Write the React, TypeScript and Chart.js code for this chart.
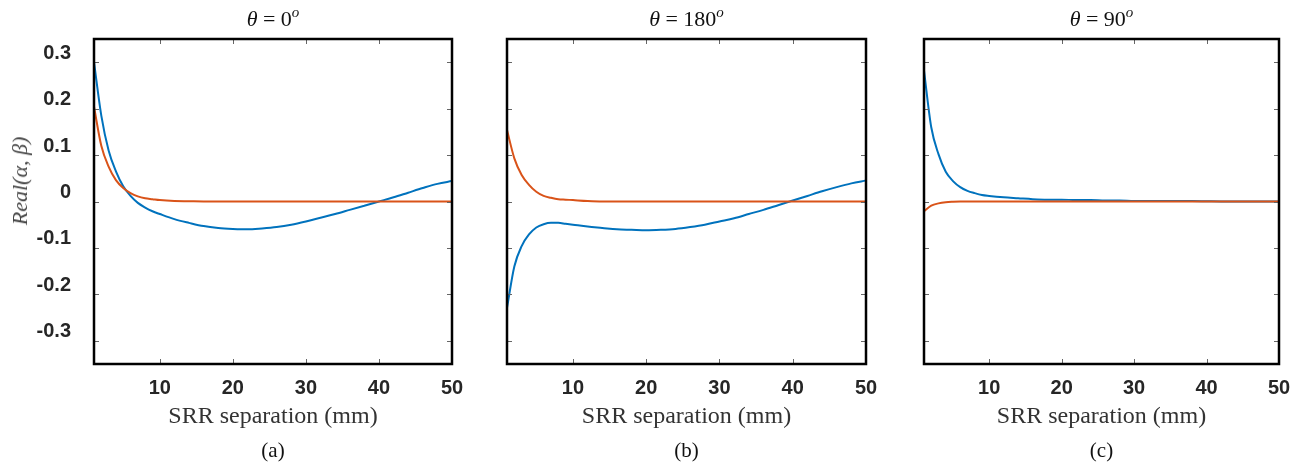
import React, { useEffect, useRef } from "react";
import { Chart, registerables } from "chart.js";

Chart.register(...registerables);

const W = 1305;
const H = 467;

// separation (mm)
const xValues = [1, 2, 3, 4, 5, 6, 7, 8, 9, 10, 12, 14, 16, 18, 20, 22, 24, 26, 28, 30, 32, 34, 36, 38, 40, 42, 44, 46, 48, 50];

// (a) theta = 0
const blueA = [0.300, 0.185, 0.110, 0.065, 0.033, 0.012, -0.003, -0.013, -0.021, -0.027, -0.038, -0.046, -0.053, -0.057, -0.059, -0.060, -0.058, -0.055, -0.050, -0.043, -0.035, -0.027, -0.018, -0.009, 0.000, 0.009, 0.019, 0.029, 0.038, 0.044];
const orangeA = [0.204, 0.120, 0.075, 0.046, 0.029, 0.018, 0.011, 0.007, 0.005, 0.003, 0.001, 0.0005, 0, 0, 0, 0, 0, 0, 0, 0, 0, 0, 0, 0, 0, 0, 0, 0, 0, 0];

// (b) theta = 180
const blueB = [-0.229, -0.140, -0.096, -0.071, -0.056, -0.049, -0.046, -0.046, -0.048, -0.050, -0.054, -0.057, -0.060, -0.061, -0.062, -0.061, -0.059, -0.055, -0.050, -0.043, -0.036, -0.027, -0.018, -0.008, 0.002, 0.012, 0.022, 0.031, 0.039, 0.045];
const orangeB = [0.154, 0.093, 0.057, 0.036, 0.021, 0.012, 0.008, 0.005, 0.004, 0.003, 0.001, 0, 0, 0, 0, 0, 0, 0, 0, 0, 0, 0, 0, 0, 0, 0, 0, 0, 0, 0];

// (c) theta = 90
const blueC = [0.282, 0.160, 0.102, 0.064, 0.044, 0.031, 0.023, 0.018, 0.014, 0.012, 0.009, 0.007, 0.005, 0.004, 0.004, 0.003, 0.003, 0.002, 0.002, 0.001, 0.001, 0.001, 0.001, 0.001, 0.0005, 0, 0, 0, 0, 0];
const orangeC = [-0.021, -0.009, -0.004, -0.0015, -0.0005, 0, 0, 0, 0, 0, 0, 0, 0, 0, 0, 0, 0, 0, 0, 0, 0, 0, 0, 0, 0, 0, 0, 0, 0, 0];

const xTicks = [10, 20, 30, 40, 50];
const yTicks = [-0.3, -0.2, -0.1, 0, 0.1, 0.2, 0.3];
const thetaLabels = ["0", "180", "90"];
const panelLetters = ["(a)", "(b)", "(c)"];
const xTitle = "SRR separation (mm)";
const yTitle = "Real(α, β)";

const BLUE = "#0072BD";
const ORANGE = "#D95319";

const PLOT_TOP = 39;
const PLOT_BOTTOM = 364;
const plotLefts = [94, 507, 924];
const plotRights = [452, 866, 1279];
const Y_AXIS_W = 94;

const panels = [
  { blue: blueA, orange: orangeA },
  { blue: blueB, orange: orangeB },
  { blue: blueC, orange: orangeC },
];

const framePlugin = {
  id: "frameTicks",
  afterDraw(chart: any) {
    const { ctx, chartArea: a, scales } = chart;
    ctx.save();
    ctx.strokeStyle = "#666";
    ctx.lineWidth = 1;
    const tl = 5;
    ctx.beginPath();
    for (const t of scales.x.ticks) {
      const px = Math.round(scales.x.getPixelForValue(t.value)) + 0.5;
      ctx.moveTo(px, a.bottom);
      ctx.lineTo(px, a.bottom - tl);
      ctx.moveTo(px, a.top);
      ctx.lineTo(px, a.top + tl);
    }
    for (const t of scales.y.ticks) {
      const py = Math.round(scales.y.getPixelForValue(t.value)) + 0.5;
      ctx.moveTo(a.left, py);
      ctx.lineTo(a.left + tl, py);
      ctx.moveTo(a.right, py);
      ctx.lineTo(a.right - tl, py);
    }
    ctx.stroke();
    ctx.strokeStyle = "#000";
    ctx.lineWidth = 2.5;
    ctx.strokeRect(a.left, a.top, a.right - a.left, a.bottom - a.top);
    ctx.restore();
  },
};

function fmt(v: number): string {
  const r = Math.round(v * 10) / 10;
  if (r === 0) return "0";
  return String(r);
}

function Panel({ idx }: { idx: number }) {
  const ref = useRef<HTMLCanvasElement | null>(null);
  useEffect(() => {
    if (!ref.current) return;
    const p = panels[idx];
    const tickFont = { family: "'Liberation Sans', Arial, sans-serif", size: 20, weight: "bold" as const };
    const chart = new Chart(ref.current, {
      type: "line",
      data: {
        datasets: [
          {
            data: xValues.map((x, i) => ({ x, y: p.orange[i] })),
            borderColor: ORANGE,
            borderWidth: 2,
            pointRadius: 0,
            cubicInterpolationMode: "monotone",
            order: 0,
          },
          {
            data: xValues.map((x, i) => ({ x, y: p.blue[i] })),
            borderColor: BLUE,
            borderWidth: 2,
            pointRadius: 0,
            cubicInterpolationMode: "monotone",
            order: 1,
          },
        ],
      },
      options: {
        responsive: false,
        animation: false,
        devicePixelRatio: 1,
        layout: {
          padding: {
            left: plotLefts[idx] - Y_AXIS_W,
            right: W - plotRights[idx],
            top: PLOT_TOP,
            bottom: 0,
          },
        },
        plugins: {
          legend: { display: false },
          tooltip: { enabled: false },
          title: { display: false },
        },
        scales: {
          x: {
            type: "linear",
            min: 1,
            max: 50,
            afterBuildTicks: (s: any) => {
              s.ticks = xTicks.map((v) => ({ value: v }));
            },
            afterFit: (s: any) => {
              s.height = H - PLOT_BOTTOM;
            },
            grid: { display: false, drawTicks: false },
            border: { display: false },
            ticks: {
              font: tickFont,
              color: "#262626",
              padding: 12,
              maxRotation: 0,
              autoSkip: false,
              callback: (v: any) => String(v),
            },
          },
          y: {
            type: "linear",
            min: -0.35,
            max: 0.35,
            afterBuildTicks: (s: any) => {
              s.ticks = yTicks.map((v) => ({ value: v }));
            },
            afterFit: (s: any) => {
              s.width = Y_AXIS_W;
            },
            grid: { display: false, drawTicks: false },
            border: { display: false },
            ticks: {
              display: idx === 0,
              font: tickFont,
              color: "#262626",
              padding: 23,
              labelOffset: -9,
              autoSkip: false,
              callback: (v: any) => fmt(Number(v)),
            },
          },
        },
      },
      plugins: [framePlugin],
    } as any);
    return () => chart.destroy();
  }, [idx]);
  return (
    <canvas
      ref={ref}
      width={W}
      height={H}
      style={{ position: "absolute", left: 0, top: 0, width: W, height: H }}
    />
  );
}

export default function App() {
  const serif = "'Liberation Serif', 'Times New Roman', serif";
  return (
    <div
      style={{
        position: "absolute",
        left: 0,
        top: 0,
        width: W,
        height: H,
        background: "#fff",
        overflow: "hidden",
        fontFamily: serif,
      }}
    >
      {[0, 1, 2].map((i) => (
        <Panel key={i} idx={i} />
      ))}
      {[0, 1, 2].map((i) => {
        const cx = (plotLefts[i] + plotRights[i]) / 2;
        return (
          <React.Fragment key={"t" + i}>
            <div
              style={{
                position: "absolute",
                left: cx,
                top: 8,
                transform: "translateX(-50%)",
                fontSize: 22,
                lineHeight: 1,
                whiteSpace: "nowrap",
                color: "#111",
              }}
            >
              <span style={{ fontStyle: "italic" }}>θ</span> = {thetaLabels[i]}
              <span style={{ fontStyle: "italic", fontSize: 15, position: "relative", top: -9 }}>o</span>
            </div>
            <div
              style={{
                position: "absolute",
                left: cx,
                top: 403,
                transform: "translateX(-50%)",
                fontSize: 24,
                lineHeight: 1,
                whiteSpace: "nowrap",
                color: "#333",
              }}
            >
              {xTitle}
            </div>
            <div
              style={{
                position: "absolute",
                left: cx,
                top: 440,
                transform: "translateX(-50%)",
                fontSize: 21,
                lineHeight: 1,
                whiteSpace: "nowrap",
                color: "#111",
              }}
            >
              {panelLetters[i]}
            </div>
          </React.Fragment>
        );
      })}
      <div
        style={{
          position: "absolute",
          left: 20,
          top: 181,
          transform: "translate(-50%, -50%) rotate(-90deg)",
          fontSize: 22,
          lineHeight: 1,
          fontStyle: "italic",
          whiteSpace: "nowrap",
          color: "#444",
        }}
      >
        {yTitle}
      </div>
    </div>
  );
}
